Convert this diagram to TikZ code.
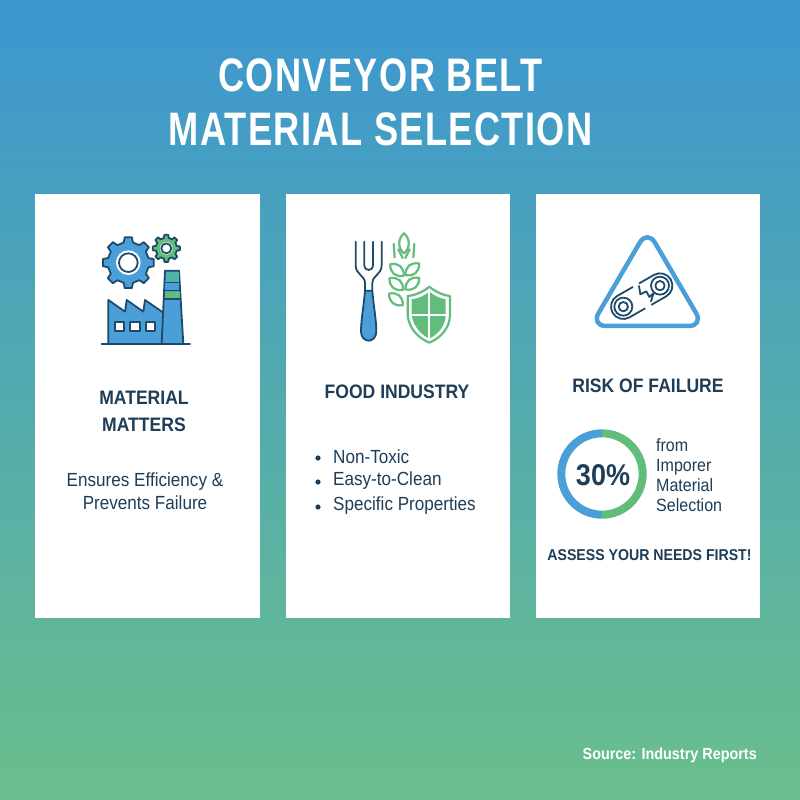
\documentclass[tikz,border=0pt]{standalone}
\usepackage{fontspec}
\setmainfont{Liberation Sans}[FakeStretch=0.9]
\newfontfamily\titlefont{Liberation Sans}[FakeStretch=0.77,LetterSpace=3]

\definecolor{topblue}{HTML}{3C96D0}
\definecolor{botgreen}{HTML}{6ABF8C}
\definecolor{inkblue}{HTML}{1F3D56}
\definecolor{iconline}{HTML}{1E4A6B}
\definecolor{iconblue}{HTML}{4A9FD8}
\definecolor{icongreen}{HTML}{62BC7C}
\definecolor{iconteal}{HTML}{4FB3A9}

\tikzset{
    card/.style={fill=white,draw=none},
    cardhead/.style={text=inkblue,font=\fontsize{19.5}{27}\selectfont\bfseries,align=center},
    cardbody/.style={text=inkblue,font=\fontsize{19}{23}\selectfont},
    iconzoom/.style 2 args={shift={(#1,#2)},x=.3333pt,y=-.3333pt},
    iconedge/.style={draw=iconline,line width=1.8pt,line join=round},
    wheatleaf/.style={draw=icongreen,line width=2.2pt,fill=white}
}

\begin{document}
\begin{tikzpicture}[x=1pt,y=-1pt,line cap=round,line join=round]
    \useasboundingbox (0,0) rectangle (800,800);
    \shade[top color=topblue,bottom color=botgreen,draw=none] (0,0) rectangle (800,800);

    \node[text=white,font=\fontsize{47}{54}\selectfont\bfseries\titlefont,align=center] (title) at (380.5,102.5) {CONVEYOR BELT\\MATERIAL SELECTION};

    \fill[card] (35,194) rectangle (260,618);
    \fill[card] (286,194) rectangle (510,618);
    \fill[card] (536,194) rectangle (760,618);

    % factory icon
    \begin{scope}[iconzoom={80}{220}]
        \foreach \gx/\gy/\groot/\gtop/\gfill/\ghole in {145/128/62/77/iconblue/37, 259/85/32/41/icongreen/19} {
            \draw[fill=\gfill,iconedge]
                ({\gx+\groot*cos(-13)},{\gy+\groot*sin(-13)})
                \foreach \a in {0,45,...,315} {
                    -- ({\gx+\groot*cos(\a-13)},{\gy+\groot*sin(\a-13)})
                    -- ({\gx+\gtop*cos(\a-8)},{\gy+\gtop*sin(\a-8)})
                    -- ({\gx+\gtop*cos(\a+8)},{\gy+\gtop*sin(\a+8)})
                    -- ({\gx+\groot*cos(\a+13)},{\gy+\groot*sin(\a+13)})
                } -- cycle;
            \fill[white] (\gx,\gy) circle (\ghole);
        }
        \draw[iconedge,fill=white] (145,128) circle (28);
        \draw[iconedge,fill=white] (259,85) circle (15);
        \draw[iconedge,fill=iconblue] (85,240) -- (135,275) -- (140,240) -- (190,275) -- (195,240) -- (250,278) -- (250,372) -- (85,372) -- cycle;
        \draw[iconedge,fill=iconblue] (255,152) -- (297,152) -- (310,372) -- (245,372) -- cycle;
        \fill[iconteal] (257,156) rectangle (296,185);
        \fill[iconblue] (256,190) rectangle (297,210);
        \fill[icongreen] (255,215) rectangle (299,235);
        \draw[iconline,line width=1.4pt] (256,187) -- (297,187) (255,212) -- (298,212) (254,237) -- (299,237);
        \draw[iconedge,fill=white] (105,305) rectangle (133,332);
        \draw[iconedge,fill=white] (151,305) rectangle (179,332);
        \draw[iconedge,fill=white] (197,305) rectangle (226,332);
        \draw[iconline,line width=1.8pt] (65,373) -- (330,373);
    \end{scope}

    % fork, wheat and shield icon
    \begin{scope}[iconzoom={335}{220}]
        \draw[iconedge,fill=iconblue] (90,212) -- (112,212) .. controls (116,260) and (124,300) .. (124,335) .. controls (124,352) and (112,362) .. (101,362) .. controls (90,362) and (78,352) .. (78,335) .. controls (78,300) and (86,260) .. (90,212) -- cycle;
        \draw[iconline,line width=1.8pt] (62,65) -- (62,135) .. controls (62,165) and (90,165) .. (90,190) -- (90,212);
        \draw[iconline,line width=1.8pt] (140,65) -- (140,135) .. controls (140,165) and (112,165) .. (112,190) -- (112,212);
        \draw[iconline,line width=1.8pt] (88,65) -- (88,135) .. controls (88,155) and (114,155) .. (114,135) -- (114,65);
        \draw[icongreen,line width=2.2pt] (207,40) .. controls (188,55) and (188,85) .. (207,100) .. controls (226,85) and (226,55) .. (207,40) -- cycle;
        \draw[icongreen,line width=2.2pt] (176,72) -- (179,112) (238,72) -- (235,112) (190,88) -- (203,114) (224,88) -- (211,114);
        \foreach \lx/\ly/\lrot in {186/150/-40, 232/148/40, 184/192/-40, 232/191/40, 183/238/-40} {
            \draw[wheatleaf,rotate around={\lrot:(\lx,\ly)}] (\lx-27,\ly) .. controls (\lx-10,\ly-20) and (\lx+10,\ly-20) .. (\lx+27,\ly) .. controls (\lx+10,\ly+20) and (\lx-10,\ly+20) .. (\lx-27,\ly) -- cycle;
        }
        \draw[icongreen,line width=2.2pt,fill=white] (283,200) .. controls (300,215) and (325,226) .. (345,228) -- (345,285) .. controls (345,325) and (315,355) .. (283,368) .. controls (251,355) and (221,325) .. (218,285) -- (218,228) .. controls (241,226) and (266,215) .. (283,200) -- cycle;
        \fill[icongreen] (283,215) .. controls (296,226) and (316,236) .. (332,238) -- (332,285) .. controls (332,318) and (308,344) .. (283,356) .. controls (258,344) and (234,318) .. (230,285) -- (230,238) .. controls (250,236) and (270,226) .. (283,215) -- cycle;
        \draw[white,line width=1.8pt,line cap=butt] (283,210) -- (283,360) (226,285) -- (336,285);
    \end{scope}

    % broken belt in a warning triangle
    \begin{scope}[iconzoom={585}{225}]
        \draw[iconblue,line width=4.5pt,rounded corners=15pt] (187,14) -- (356,303) -- (18,303) -- cycle;
        \begin{scope}[shift={(115,245)},rotate=29.8]
            \draw[iconline,line width=1.8pt,rounded corners=12.3pt] (-37,-37) rectangle (164,37);
            \fill[white] (55,-42) rectangle (75,42);
        \end{scope}
        \draw[iconline,line width=1.8pt,fill=white] (115,245) circle (27);
        \draw[iconline,line width=1.8pt] (115,245) circle (14);
        \draw[iconline,line width=1.8pt,fill=white] (225,182) circle (27);
        \draw[iconline,line width=1.8pt] (225,182) circle (14);
        \draw[iconline,line width=1.8pt] (162,183) -- (166,208) -- (184,199) -- (193,216) -- (206,204) -- (198,229);
    \end{scope}

    \node[cardhead] (matters) at (144,411.5) {MATERIAL\\MATTERS};
    \node[cardbody,align=center] (ensures) at (145,491) {Ensures Efficiency \&\\Prevents Failure};

    \node[cardhead] (food) at (397,392) {FOOD INDUSTRY};
    \node[cardbody,anchor=west,inner sep=0pt] (nontoxic) at (333,457) {Non-Toxic};
    \node[cardbody,anchor=west,inner sep=0pt] (clean) at (333,481) {Easy-to-Clean};
    \node[cardbody,anchor=west,inner sep=0pt] (props) at (333,506) {Specific Properties};
    \foreach \by in {458,482,507} {
        \fill[inkblue] (318,\by) circle (2.6);
    }

    \node[cardhead] (risk) at (648,386) {RISK OF FAILURE};
    \draw[iconblue,line width=8pt,line cap=butt] (602,433.3) arc[start angle=90,end angle=270,radius=40.7pt];
    \draw[icongreen,line width=8pt,line cap=butt] (602,433.3) arc[start angle=90,end angle=-90,radius=40.7pt];
    \node[text=inkblue,font=\fontsize{30}{32}\selectfont\bfseries] (pct) at (603,475) {30\%};
    \node[text=inkblue,font=\fontsize{17.8}{20}\selectfont,anchor=west,align=left,inner sep=0pt] (from) at (656,475) {from\\Imporer\\Material\\Selection};
    \node[text=inkblue,font=\fontsize{15.7}{20}\selectfont\bfseries] (assess) at (649.5,555) {ASSESS YOUR NEEDS FIRST!};

    \node[text=white,anchor=east,inner sep=0pt,font=\fontsize{16}{20}\selectfont\bfseries] (source) at (757,755) {Source: Industry Reports};
\end{tikzpicture}
\end{document}
